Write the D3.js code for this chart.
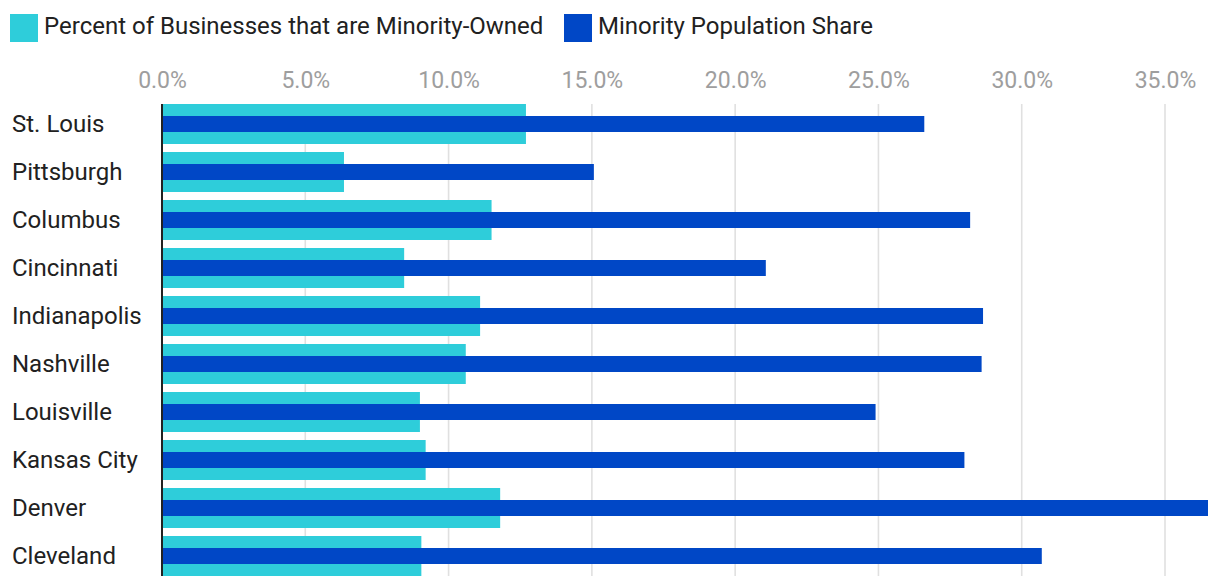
<!DOCTYPE html>
<html>
<head>
<meta charset="utf-8">
<script src="https://cdn.jsdelivr.net/npm/d3@7"></script>
<style>
  html, body { margin: 0; padding: 0; background: #fff; }
  svg { display: block; font-family: Roboto, "Noto Sans", sans-serif; }
</style>
</head>
<body>
<svg id="chart" width="1220" height="588"></svg>
<script>
const cities = ["St. Louis", "Pittsburgh", "Columbus", "Cincinnati", "Indianapolis", "Nashville", "Louisville", "Kansas City", "Denver", "Cleveland"];
const businessShare = [12.7, 6.35, 11.5, 8.45, 11.1, 10.6, 9.0, 9.2, 11.8, 9.05];
const populationShare = [26.6, 15.07, 28.2, 21.07, 28.65, 28.6, 24.9, 28.0, 36.5, 30.7];
const seriesNames = ["Percent of Businesses that are Minority-Owned", "Minority Population Share"];
const seriesColors = ["#2ecdda", "#0047c6"];
const tickValues = [0, 5, 10, 15, 20, 25, 30, 35];

const svg = d3.select("#chart");
const x = d3.scaleLinear().domain([0, d3.max(populationShare)]).range([162, 1208]);
const y = d3.scaleBand().domain(cities).range([100, 580]).paddingInner(8/48).paddingOuter(4/48);

// legend
const legendX = [10, 564];
seriesNames.forEach((name, i) => {
  svg.append("rect").attr("x", legendX[i]).attr("y", 14).attr("width", 28).attr("height", 28).attr("fill", seriesColors[i]);
  svg.append("text").attr("x", legendX[i] + 34).attr("y", 34).attr("font-size", 24).attr("fill", "#212121").text(name);
});

// gridlines
const yTop = y(cities[0]);
const yBot = y(cities[cities.length - 1]) + y.bandwidth();
svg.append("g").selectAll("line").data(tickValues.filter(d => d > 0)).join("line")
  .attr("x1", d => x(d)).attr("x2", d => x(d))
  .attr("y1", yTop).attr("y2", yBot)
  .attr("stroke", "#e0e0e0").attr("stroke-width", 1.6);

// axis labels (top)
const axis = d3.axisTop(x).tickValues(tickValues).tickFormat(d => d3.format(".1f")(d) + "%").tickSize(0).tickPadding(0);
const ag = svg.append("g").attr("transform", "translate(0,88)").call(axis);
ag.select(".domain").remove();
ag.selectAll("text").attr("font-size", 23).attr("fill", "#9e9e9e").attr("font-family", "Roboto, sans-serif").attr("dy", 0);

// bars
const bh = y.bandwidth();
svg.append("g").selectAll("rect").data(cities).join("rect")
  .attr("x", x(0)).attr("y", d => y(d))
  .attr("width", (d, i) => x(businessShare[i]) - x(0))
  .attr("height", bh).attr("fill", seriesColors[0]);
svg.append("g").selectAll("rect").data(cities).join("rect")
  .attr("x", x(0)).attr("y", d => y(d) + bh * 0.3)
  .attr("width", (d, i) => x(populationShare[i]) - x(0))
  .attr("height", bh * 0.4).attr("fill", seriesColors[1]);

// zero line
svg.append("line").attr("x1", x(0)).attr("x2", x(0)).attr("y1", yTop).attr("y2", yBot)
  .attr("stroke", "#212121").attr("stroke-width", 2);

// category labels
svg.append("g").selectAll("text").data(cities).join("text")
  .attr("x", 12).attr("y", d => y(d) + bh / 2 + 7.5)
  .attr("font-size", 24).attr("fill", "#212121").text(d => d);
</script>
</body>
</html>
